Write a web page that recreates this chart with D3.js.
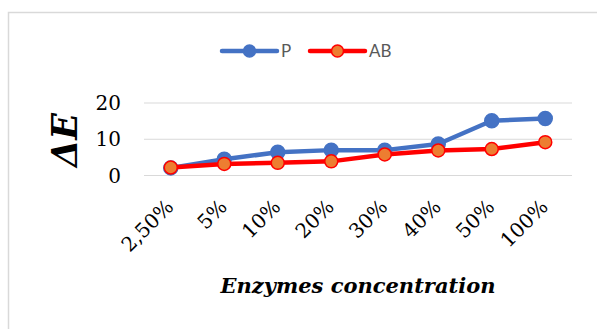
<!DOCTYPE html>
<html>
<head>
<meta charset="utf-8">
<script src="https://cdn.jsdelivr.net/npm/d3@7"></script>
<style>
  html, body { margin: 0; padding: 0; background: #fff; }
  svg { display: block; }
  .serif { font-family: 'DejaVu Serif', serif; }
  .sans { font-family: Lato, 'Liberation Sans', sans-serif; }
</style>
</head>
<body>
<div id="chart"></div>
<script>
"use strict";

// data
var categories = ['2,50%', '5%', '10%', '20%', '30%', '40%', '50%', '100%'];
var seriesP = [2.1, 4.5, 6.4, 7.0, 7.0, 8.7, 15.1, 15.7];
var seriesAB = [2.2, 3.2, 3.5, 3.9, 5.8, 6.9, 7.3, 9.2];
var yTicks = [0, 10, 20];
var seriesNames = ['P', 'AB'];

var W = 597, H = 329;
var plot = {left: 144, right: 572, top: 103, bottom: 175.5};

var svg = d3.select('#chart').append('svg')
  .attr('width', W)
  .attr('height', H);

// chart area border
svg.append('rect')
  .attr('x', 8.5).attr('y', 12.5)
  .attr('width', 620).attr('height', 340)
  .attr('fill', '#fff')
  .attr('stroke', '#d9d9d9')
  .attr('stroke-width', 1.5);

var x = d3.scaleBand()
  .domain(categories)
  .range([plot.left, plot.right]);

var y = d3.scaleLinear()
  .domain([0, 20])
  .range([plot.bottom, plot.top]);

// gridlines
svg.append('g')
  .selectAll('line')
  .data(yTicks)
  .enter()
    .append('line')
      .attr('x1', plot.left)
      .attr('x2', plot.right)
      .attr('y1', function(d) { return y(d); })
      .attr('y2', function(d) { return y(d); })
      .attr('stroke', '#d9d9d9')
      .attr('stroke-width', 1.2);

// y tick labels
svg.append('g')
  .selectAll('text')
  .data(yTicks)
  .enter()
    .append('text')
      .attr('class', 'serif')
      .attr('x', 121)
      .attr('y', function(d) { return y(d); })
      .attr('dy', '0.36em')
      .attr('text-anchor', 'end')
      .style('font-size', '20px')
      .attr('fill', '#000')
      .text(function(d) { return d; });

// x tick labels, rotated
svg.append('g')
  .selectAll('text')
  .data(categories)
  .enter()
    .append('text')
      .attr('class', 'serif')
      .attr('transform', function(d) {
        var cx = x(d) + x.bandwidth() / 2;
        return 'translate(' + (cx + 4) + ',208) rotate(-45)';
      })
      .attr('text-anchor', 'end')
      .style('font-size', '20px')
      .attr('fill', '#000')
      .text(function(d) { return d; });

// axis titles
svg.append('text')
  .attr('class', 'serif')
  .attr('transform', 'translate(77,140) rotate(-90)')
  .attr('text-anchor', 'middle')
  .style('font-size', '35px')
  .style('font-weight', 'bold')
  .style('font-style', 'italic')
  .text('ΔE');

svg.append('text')
  .attr('class', 'serif')
  .attr('x', (plot.left + plot.right) / 2)
  .attr('y', 293)
  .attr('text-anchor', 'middle')
  .style('font-size', '21px')
  .style('font-weight', 'bold')
  .style('font-style', 'italic')
  .text('Enzymes concentration');

// series
var series = [
  {name: seriesNames[0], values: seriesP, line: '#4472c4', fill: '#4472c4', stroke: '#4472c4', r: 7},
  {name: seriesNames[1], values: seriesAB, line: '#ff0000', fill: '#ed7d31', stroke: '#ff0000', r: 6.5}
];

var line = d3.line()
  .x(function(d, i) { return x(categories[i]) + x.bandwidth() / 2; })
  .y(function(d) { return y(d); });

series.forEach(function(s) {
  var g = svg.append('g');
  g.append('path')
    .attr('d', line(s.values))
    .attr('fill', 'none')
    .attr('stroke', s.line)
    .attr('stroke-width', 4.5)
    .attr('stroke-linejoin', 'round');

  g.selectAll('circle')
    .data(s.values)
    .enter()
      .append('circle')
        .attr('cx', function(d, i) { return x(categories[i]) + x.bandwidth() / 2; })
        .attr('cy', function(d) { return y(d); })
        .attr('r', s.r)
        .attr('fill', s.fill)
        .attr('stroke', s.stroke)
        .attr('stroke-width', 1.5);
});

// legend
var legendX = [222, 310];
var legend = svg.append('g')
  .selectAll('g')
  .data(series)
  .enter()
    .append('g')
      .attr('transform', function(d, i) { return 'translate(' + legendX[i] + ',51)'; });

legend.append('line')
  .attr('x1', 0).attr('x2', 55)
  .attr('stroke', function(d) { return d.line; })
  .attr('stroke-width', 4.5)
  .attr('stroke-linecap', 'round');

legend.append('circle')
  .attr('cx', 27.5)
  .attr('r', 6)
  .attr('fill', function(d) { return d.fill; })
  .attr('stroke', function(d) { return d.stroke; })
  .attr('stroke-width', 1.5);

legend.append('text')
  .attr('class', 'sans')
  .attr('x', 59)
  .attr('y', 6)
  .style('font-size', '17px')
  .attr('fill', '#595959')
  .text(function(d) { return d.name; });
</script>
</body>
</html>
